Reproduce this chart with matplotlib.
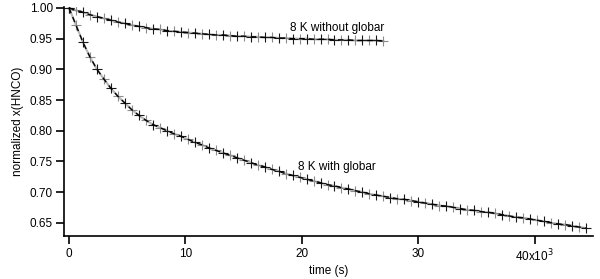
import numpy as np
import matplotlib
matplotlib.use("Agg")
import matplotlib.pyplot as plt

plt.rcParams['font.family'] = ['Liberation Sans', 'DejaVu Sans']

# time in units of 1e3 s
t_with = [0.0, 0.6, 1.2, 1.8, 2.4, 3.0, 3.6, 4.2, 4.8, 5.4, 6.0, 6.6, 7.2, 7.8, 8.4,
          9.0, 9.6, 10.2, 10.8, 11.4, 12.0, 12.6, 13.2, 13.8, 14.4, 15.0, 15.6, 16.2,
          16.8, 17.4, 18.0, 18.6, 19.2, 19.8, 20.4, 21.0, 21.6, 22.2, 22.8, 23.4, 24.0,
          24.6, 25.2, 25.8, 26.4, 27.0, 27.6, 28.2, 28.8, 29.4, 30.0, 30.6, 31.2, 31.8,
          32.4, 33.0, 33.6, 34.2, 34.8, 35.4, 36.0, 36.6, 37.2, 37.8, 38.4, 39.0, 39.6,
          40.2, 40.8, 41.4, 42.0, 42.6, 43.2, 43.8, 44.4]
x_with = [1.000, 0.972, 0.944, 0.920, 0.900, 0.884, 0.869, 0.856, 0.845, 0.834, 0.825,
          0.817, 0.810, 0.805, 0.800, 0.795, 0.791, 0.786, 0.781, 0.777, 0.772, 0.768,
          0.764, 0.760, 0.756, 0.752, 0.748, 0.744, 0.741, 0.737, 0.734, 0.730, 0.727,
          0.724, 0.721, 0.718, 0.715, 0.712, 0.710, 0.707, 0.705, 0.702, 0.700, 0.697,
          0.695, 0.693, 0.691, 0.689, 0.688, 0.686, 0.684, 0.682, 0.680, 0.678, 0.677,
          0.675, 0.673, 0.671, 0.670, 0.668, 0.667, 0.665, 0.663, 0.661, 0.659, 0.658,
          0.656, 0.654, 0.652, 0.650, 0.648, 0.647, 0.645, 0.643, 0.641]

t_without = [0.0, 0.6, 1.2, 1.8, 2.4, 3.0, 3.6, 4.2, 4.8, 5.4, 6.0, 6.6, 7.2, 7.8, 8.4,
             9.0, 9.6, 10.2, 10.8, 11.4, 12.0, 12.6, 13.2, 13.8, 14.4, 15.0, 15.6, 16.2,
             16.8, 17.4, 18.0, 18.6, 19.2, 19.8, 20.4, 21.0, 21.6, 22.2, 22.8, 23.4, 24.0,
             24.6, 25.2, 25.8, 26.4, 27.0]
x_without = [1.000, 0.996, 0.993, 0.989, 0.986, 0.983, 0.980, 0.977, 0.975, 0.972, 0.970,
             0.968, 0.966, 0.965, 0.963, 0.962, 0.961, 0.960, 0.959, 0.958, 0.957, 0.956,
             0.956, 0.955, 0.954, 0.954, 0.953, 0.953, 0.952, 0.952, 0.951, 0.951, 0.950,
             0.950, 0.950, 0.949, 0.949, 0.949, 0.948, 0.948, 0.948, 0.947, 0.947, 0.947,
             0.947, 0.946]

x_ticks = [0, 10, 20, 30, 40]
x_tick_labels = ["0", "10", "20", "30", "40x10$^{3}$"]
y_ticks = [0.65, 0.70, 0.75, 0.80, 0.85, 0.90, 0.95, 1.00]

fig = plt.figure(figsize=(6.0, 2.79), dpi=100)
ax = fig.add_axes([64/600, 1-235.7/279, (593-64)/600, (235.7-7)/279])

for t, x in [(t_with, x_with), (t_without, x_without)]:
    ax.plot(t, x, color='#b8b8b8', lw=1.5, zorder=1)
    ax.plot(t[1::2], x[1::2], ls='none', marker='+', ms=7, mew=0.8,
            color='#8c8c8c', zorder=2)
    ax.plot(t[0::2], x[0::2], ls='none', marker='+', ms=7, mew=0.8,
            color='#1a1a1a', zorder=2)
    ax.plot(t, x, color='black', lw=1.0, ls=(0, (4, 3)), zorder=3)

ax.set_xlim(-0.43, 45.0)
ax.set_ylim(0.6288, 1.0016)
ax.set_xticks(x_ticks)
ax.set_xticklabels(x_tick_labels)
ax.set_yticks(y_ticks)
ax.set_yticklabels([f"{v:.2f}" for v in y_ticks])

for s in ['top', 'right']:
    ax.spines[s].set_visible(False)
for s in ['left', 'bottom']:
    ax.spines[s].set_linewidth(1.2)
ax.tick_params(axis='both', direction='out', length=6, width=1.2, labelsize=8.5,
               colors='black')
ax.tick_params(axis='x', pad=3)
ax.tick_params(axis='y', pad=2)

ax.set_xlabel("time (s)", fontsize=8.5, labelpad=0)
ax.set_ylabel("normalized x(HNCO)", fontsize=8.5, labelpad=4)

ax.text(19.0, 0.968, "8 K without globar", fontsize=8.5, ha='left', va='center')
ax.text(19.7, 0.741, "8 K with globar", fontsize=8.5, ha='left', va='center')

fig.savefig("out.png", dpi=100)
